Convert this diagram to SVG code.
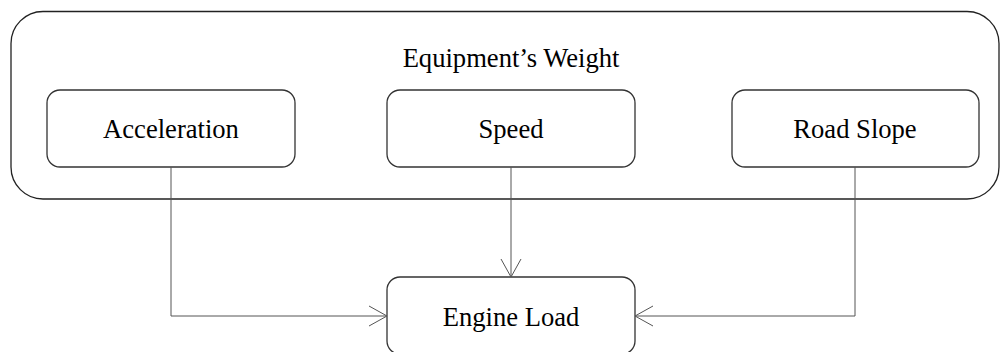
<svg xmlns="http://www.w3.org/2000/svg" width="1000" height="352" viewBox="0 0 1000 352">
<style>
.box{fill:#fff;stroke:#333;stroke-width:1.3}
.grp{fill:none;stroke:#222;stroke-width:1.3}
.lbl{font-family:"Liberation Serif","Times New Roman",serif;font-size:26.6px;fill:#000;text-anchor:middle}
.con{fill:none;stroke:#555;stroke-width:1}
</style>
<defs>
<marker id="arr" markerWidth="20" markerHeight="22" refX="18" refY="11" orient="auto" markerUnits="userSpaceOnUse">
<path d="M0,1 L18,11 L0,21" fill="none" stroke="#555" stroke-width="1"/>
</marker>
</defs>
<g id="equipment-weight">
<rect class="grp" x="11" y="11.5" width="988" height="187.5" rx="32"/>
<text class="lbl" x="511" y="67">Equipment’s Weight</text>
</g>
<g id="acceleration">
<rect class="box" x="47" y="90" width="248" height="77" rx="13"/>
<text class="lbl" x="171" y="138">Acceleration</text>
</g>
<g id="speed">
<rect class="box" x="387" y="90" width="248" height="77" rx="13"/>
<text class="lbl" x="511" y="138">Speed</text>
</g>
<g id="road-slope">
<rect class="box" x="732" y="90" width="247" height="77" rx="13"/>
<text class="lbl" x="855" y="138">Road Slope</text>
</g>
<g id="engine-load">
<rect class="box" x="387" y="277" width="248" height="77" rx="13"/>
<text class="lbl" x="511" y="325.5">Engine Load</text>
</g>
<g id="connectors">
<path class="con" d="M171,167 V316 H387" marker-end="url(#arr)"/>
<path class="con" d="M511,167 V277" marker-end="url(#arr)"/>
<path class="con" d="M855,167 V316 H635" marker-end="url(#arr)"/>
</g>
</svg>
